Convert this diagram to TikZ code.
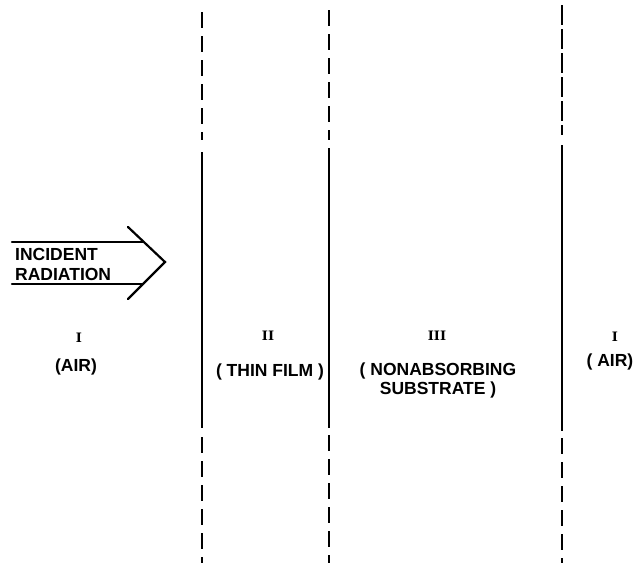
\documentclass[tikz,border=0pt]{standalone}
\usepackage{fontspec}
\setmainfont{Liberation Sans}
\newfontfamily\numfont{DejaVu Serif}
\begin{document}
\begin{tikzpicture}[x=1pt,y=-1pt,
  solidb/.style={line width=1.6pt},
  dashb/.style={line width=2pt, dash pattern=on 16pt off 8pt},
  dashc/.style={line width=2pt, dash pattern=on 20pt off 4pt},
  lab/.style={font=\fontsize{17.5}{19}\selectfont\bfseries, inner sep=0pt, align=center},
  num/.style={font=\numfont\fontsize{13}{14}\selectfont\bfseries, inner sep=0pt},
  arr/.style={line width=2.2pt, line cap=round, line join=miter}]
\useasboundingbox (0,0) rectangle (643,563);
% boundary 1
\draw[dashb] (202,12) -- (202,140);
\draw[solidb] (202,152) -- (202,428);
\draw[dashb] (202,437) -- (202,563);
% boundary 2
\draw[dashb] (329,10) -- (329,140);
\draw[solidb] (329,148) -- (329,428);
\draw[dashb] (329,435) -- (329,563);
% boundary 3
\draw[dashc] (562,5) -- (562,135);
\draw[solidb] (562,145) -- (562,431);
\draw[dashb] (562,438) -- (562,563);
% incident arrow
\coordinate (t1) at (12,242);
\coordinate (t2) at (143,242);
\coordinate (b1) at (12,284);
\coordinate (b2) at (143,284);
\coordinate (h1) at (128,227);
\coordinate (tip) at (165,262);
\coordinate (h2) at (128,299);
\draw[arr] (t1) -- (t2);
\draw[arr] (b1) -- (b2);
\draw[arr] (h1) -- (tip) -- (h2);
\node[lab, anchor=west] (inc) at (15,254) {INCIDENT};
\node[lab, anchor=west] (rad) at (15,274) {RADIATION};
% region labels
\node[num] (n1) at (79,338) {I};
\node[lab] (air1) at (76,367) {(AIR)};
\node[num] (n2) at (268,336) {II};
\node[lab] (film) at (270,372) {( THIN FILM )};
\node[num] (n3) at (437,336) {III};
\node[lab] (sub) at (438,380) {( NONABSORBING\\SUBSTRATE )};
\node[num] (n4) at (615,337) {I};
\node[lab] (air2) at (610,362) {( AIR)};
\end{tikzpicture}
\end{document}
